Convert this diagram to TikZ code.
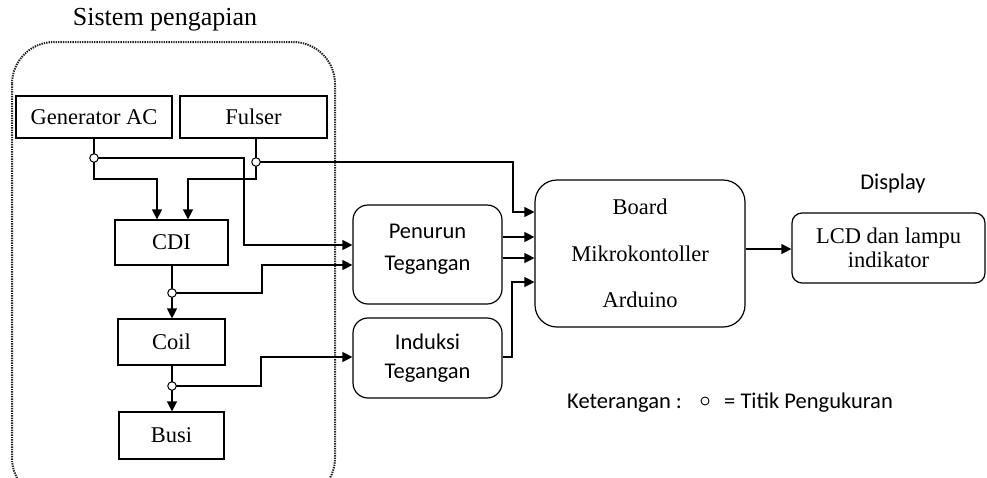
\documentclass[tikz,border=0pt]{standalone}
\usepackage{fontspec}
\setmainfont{Liberation Serif}
\newfontfamily\calfont{Carlito}
\usetikzlibrary{arrows.meta,calc}
\tikzset{
  box/.style={draw, line width=1.2pt, inner sep=0pt, font=\fontsize{22.5}{27}\selectfont},
  rbox/.style={box, rounded corners=15pt, align=center, font=\calfont\fontsize{22.5}{31}\selectfont},
  arr/.style={-{Triangle[length=10pt,width=10pt]}, line width=1.3pt},
  ln/.style={line width=1.3pt},
  mp/.style={circle, draw, fill=white, line width=1pt, inner sep=0pt, minimum size=8.5pt},
  bound/.style={line width=2pt, black!85, dash pattern=on 1.4pt off 1.0pt, rounded corners=42pt}
}
\begin{document}
\begin{tikzpicture}[x=1pt,y=-1pt]
\useasboundingbox (0,0) rectangle (987,477);
\begin{scope}
\clip (0,0) rectangle (987,477);
\draw[bound] (12,42) rectangle (335,500);
\end{scope}
\node[font=\fontsize{26}{30}\selectfont] (title) at (165,20) {Sistem pengapian};

\node[box, minimum width=156pt, minimum height=42pt] (gen) at (94,117) {Generator AC};
\node[box, minimum width=147pt, minimum height=42pt] (ful) at (253.5,117) {Fulser};
\node[box, minimum width=113pt, minimum height=45pt] (cdi) at (171.5,242.5) {CDI};
\node[box, minimum width=107pt, minimum height=46pt] (coil) at (171.5,342) {Coil};
\node[box, minimum width=105pt, minimum height=47pt] (busi) at (171.5,435.5) {Busi};

\node[rbox, minimum width=149pt, minimum height=99pt] (pen) at (427.5,254.5) {};
\node[align=center, inner sep=0pt, font=\calfont\fontsize{22.5}{32}\selectfont] (pent) at ($(pen.center)+(0,-5)$) {Penurun\\Tegangan};
\node[rbox, minimum width=149pt, minimum height=80pt, font=\calfont\fontsize{22.5}{29}\selectfont] (ind) at (427.5,358) {Induksi\\Tegangan};
\node[box, rounded corners=22pt, align=center, minimum width=210pt, minimum height=147pt, font=\fontsize{22.5}{46.5}\selectfont] (brd) at (640,253.5) {Board\\Mikrokontoller\\Arduino};
\node[box, rounded corners=10pt, align=center, minimum width=193pt, minimum height=70pt, font=\fontsize{22.5}{24}\selectfont] (lcd) at (888.5,248) {LCD dan lampu\\indikator};
\node[font=\calfont\fontsize{22.5}{27}\selectfont] (disp) at (893,183) {Display};

% measurement points
\coordinate (m1) at (94,158);
\coordinate (m2) at (256,162);
\coordinate (m3) at (172,293);
\coordinate (m4) at (172,386);

% Generator AC
\draw[ln] (gen.south -| m1) -- (m1);
\draw[arr] (m1) -- (94,179) -| (cdi.north -| 157,0);
\draw[arr] (m1) -- (244,158) -- (244,245) -- (pen.west |- 0,245);
% Fulser
\draw[ln] (ful.south -| m2) -- (m2);
\draw[arr] (m2) -- (256,179) -| (cdi.north -| 188,0);
\draw[arr] (m2) -- (513,162) -- (513,212) -- (brd.west |- 0,212);
% CDI
\draw[ln] (cdi.south -| m3) -- (m3);
\draw[arr] (m3) -- (coil.north -| m3);
\draw[arr] (m3) -- (262,293) -- (262,265) -- (pen.west |- 0,265);
% Coil
\draw[ln] (coil.south -| m4) -- (m4);
\draw[arr] (m4) -- (busi.north -| m4);
\draw[arr] (m4) -- (261,386) -- (261,357) -- (ind.west |- 0,357);
% Penurun -> Board
\draw[arr] (pen.east |- 0,237) -- (brd.west |- 0,237);
\draw[arr] (pen.east |- 0,258) -- (brd.west |- 0,258);
% Induksi -> Board
\draw[arr] (ind.east |- 0,357) -- (512,357) -- (512,282) -- (brd.west |- 0,282);
% Board -> LCD
\draw[arr] (brd.east |- 0,249) -- (lcd.west |- 0,249);

\foreach \m in {m1,m2,m3,m4} \node[mp] at (\m) {};

% legend
\node[anchor=west, inner sep=0pt, font=\calfont\fontsize{22.5}{27}\selectfont] (ket) at (567,403) {Keterangan :};
\node[mp, minimum size=8pt, line width=0.9pt] (legc) at (705,401) {};
\node[anchor=west, inner sep=0pt, font=\calfont\fontsize{22.5}{27}\selectfont] (tp) at (724,403) {= Titik Pengukuran};
\end{tikzpicture}
\end{document}
